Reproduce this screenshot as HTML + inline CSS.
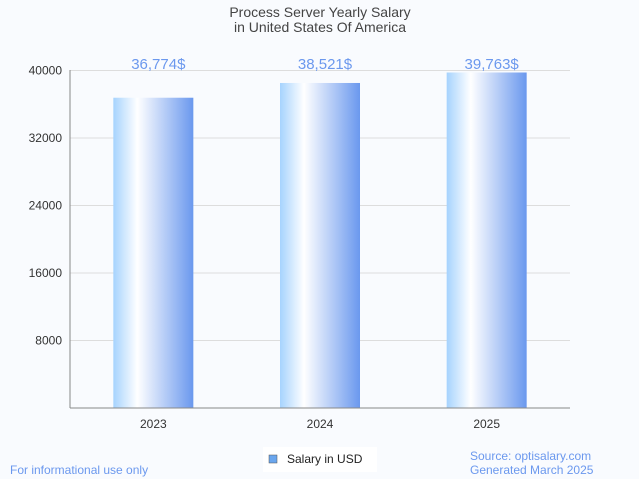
<!DOCTYPE html>
<html><head><meta charset="utf-8"><style>
body{margin:0;background:#f9fbfe;font-family:"Liberation Sans",sans-serif;}
svg{display:block}
</style></head><body>
<svg width="639" height="479" id="chart">
<defs><linearGradient id="bg" x1="0" x2="1" y1="0" y2="0">
<stop offset="0" stop-color="#a6d3fe"/><stop offset="0.3" stop-color="#ffffff"/><stop offset="1" stop-color="#6a98ee"/>
</linearGradient></defs>
<rect width="639" height="479" fill="#f9fbfe"/>
<text x="320" y="17" text-anchor="middle" font-size="14" fill="#444">Process Server Yearly Salary</text>
<text x="320" y="32" text-anchor="middle" font-size="14" fill="#444">in United States Of America</text>
<g id="grid"></g><g id="bars"></g>
<line x1="70" y1="70" x2="70" y2="408" stroke="#888"/>
<line x1="70" y1="408" x2="570" y2="408" stroke="#888"/>
<rect x="263" y="447" width="114" height="25" fill="#fff"/>
<rect x="269" y="455" width="8" height="8" fill="#6aa6ee" stroke="#555" stroke-width="0.5"/>
<text x="287" y="463" font-size="12" fill="#222">Salary in USD</text>
<text x="10" y="474" font-size="12" fill="#6b98ee">For informational use only</text>
<text x="470" y="460" font-size="12" fill="#6b98ee">Source: optisalary.com</text>
<text x="470" y="474" font-size="12" fill="#6b98ee">Generated March 2025</text>
</svg>
<script>
const categories=["2023","2024","2025"];
const values=[36774,38521,39763];
const valueLabels=["36,774$","38,521$","39,763$"];
const yTicks=[8000,16000,24000,32000,40000];
const NS="http://www.w3.org/2000/svg";
const x0=70,x1=570,yb=408,yt=70.5,ymax=40000;
const y=v=>yb-(v/ymax)*(yb-yt);
const band=(x1-x0)/categories.length;
function mk(t,a,p){const e=document.createElementNS(NS,t);for(const k in a)e.setAttribute(k,a[k]);p.appendChild(e);return e;}
const g=document.getElementById('grid'),b=document.getElementById('bars');
yTicks.forEach(t=>{
 const l=mk('line',{x1:x0,x2:x1,y1:y(t),y2:y(t),stroke:'#ddd'},g);
 
 
 const tx=mk('text',{x:x0-8,y:y(t)+4,'text-anchor':'end','font-size':12,fill:'#333'},g);
 tx.textContent=t;
 
 
});
categories.forEach((c,i)=>{
 const cx=x0+band*(i+0.5);
 const r=mk('rect',{x:cx-40,y:y(values[i]),width:80,height:yb-y(values[i]),fill:'url(#bg)'},b);
 
 
 const vl=mk('text',{x:cx+5,y:69,'text-anchor':'middle','font-size':15,fill:'#6b98ee'},b);
 vl.textContent=valueLabels[i];
 
 
 const xl=mk('text',{x:cx,y:428,'text-anchor':'middle','font-size':12,fill:'#333'},b);
 xl.textContent=c;
 
 
});
</script>
</body></html>
